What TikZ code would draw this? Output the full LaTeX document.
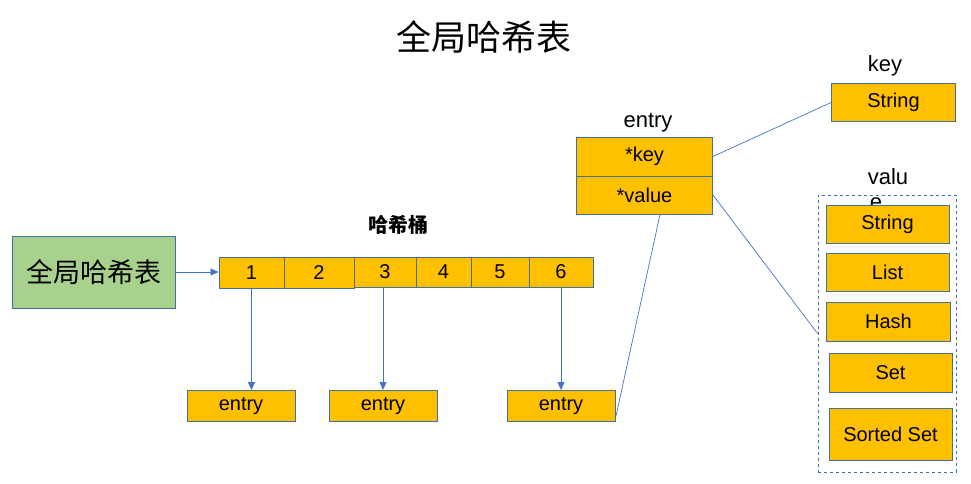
\documentclass[tikz,border=0pt]{standalone}
\usepackage{fontspec}
\setmainfont{Liberation Sans}
\newfontfamily\cjk{Noto Sans CJK SC}
\usetikzlibrary{arrows.meta}
\definecolor{boxorange}{HTML}{FFC000}
\definecolor{boxgreen}{HTML}{A9D18E}
\definecolor{edgeblue}{HTML}{41719C}
\definecolor{linkblue}{HTML}{4472C4}
\tikzset{
  cellbox/.style={draw=edgeblue, fill=boxorange, line width=0.9pt, inner sep=0pt},
  link/.style={draw=linkblue, line width=0.7pt},
  arr/.style={link, -{Triangle[length=8pt,width=7pt]}},
  lbl/.style={inner sep=0pt, font=\fontsize{20}{22}\selectfont},
}
\begin{document}
\begin{tikzpicture}[x=1pt,y=-1pt]
\useasboundingbox (0,0) rectangle (971,484);
% title
\node[inner sep=0pt, font=\cjk\fontsize{35}{37}\selectfont] (title) at (484,37) {全局哈希表};
% global hash table
\node[draw=edgeblue, fill=boxgreen, line width=0.9pt, minimum width=163pt, minimum height=72pt, inner sep=0pt, font=\cjk\fontsize{27}{29}\selectfont] (g) at (93.5,272) {全局哈希表};
% buckets label
\node[inner sep=0pt, font=\cjk\bfseries\fontsize{20}{22}\selectfont] (hb) at (398,225) {哈希桶};
% bucket cells
\node[cellbox, minimum width=65pt, minimum height=31pt, font=\fontsize{20}{22}\selectfont] (b1) at (251.5,272.5) {1};
\node[cellbox, minimum width=70pt, minimum height=31pt, font=\fontsize{20}{22}\selectfont] (b2) at (319,272.5) {2};
\node[cellbox, minimum width=62pt, minimum height=30pt, font=\fontsize{20}{22}\selectfont] (b3) at (385,272) {3};
\node[cellbox, minimum width=55pt, minimum height=30pt, font=\fontsize{20}{22}\selectfont] (b4) at (443.5,272) {4};
\node[cellbox, minimum width=58pt, minimum height=30pt, font=\fontsize{20}{22}\selectfont] (b5) at (500,272) {5};
\node[cellbox, minimum width=64pt, minimum height=30pt, font=\fontsize{20}{22}\selectfont] (b6) at (561,272) {6};
\draw[arr] (g.east) -- (g.east -| b1.west);
% entries
\node[cellbox, minimum width=108pt, minimum height=31pt, font=\fontsize{20}{22}\selectfont] (e1) at (241,406) {entry};
\node[cellbox, minimum width=108pt, minimum height=31pt, font=\fontsize{20}{22}\selectfont] (e2) at (383,406) {entry};
\node[cellbox, minimum width=108pt, minimum height=31pt, font=\fontsize{20}{22}\selectfont] (e3) at (561,406) {entry};
\draw[arr] (b1.south) -- (b1.south |- e1.north);
\draw[arr] ([xshift=-2pt]b3.south) -- ([xshift=-2pt]b3.south |- e2.north);
\draw[arr] (b6.south) -- (b6.south |- e3.north);
% entry struct
\node[lbl, font=\fontsize{22}{24}\selectfont] (entrylbl) at (648,123) {entry};
\node[cellbox, minimum width=136pt, minimum height=39pt, font=\fontsize{20}{22}\selectfont] (k) at (644.5,156.5) {*key};
\node[cellbox, minimum width=136pt, minimum height=38pt, font=\fontsize{20}{22}\selectfont] (v) at (644.5,195) {*value};
\coordinate (e3r) at (616,416);
\coordinate (vb) at (660,214.5);
\draw[link] (e3r) -- (vb);
% key
\node[lbl, font=\fontsize{22}{24}\selectfont] (keylbl) at (885,66) {key};
\node[cellbox, minimum width=124pt, minimum height=38pt, font=\fontsize{20}{22}\selectfont] (ks) at (893.5,102.5) {String};
\draw[link] (k.east) -- (ks.west);
% value
\node[lbl, font=\fontsize{22}{24}\selectfont] (vallbl) at (888,177) {valu};
\node[lbl, font=\fontsize{22}{24}\selectfont] (vallbl2) at (876,204) {e};
\node[draw=edgeblue, dashed, line width=0.9pt, minimum width=138pt, minimum height=277pt, inner sep=0pt] (vbox) at (887,333.5) {};
\draw[link] (v.east) -- (vbox.west);
\node[cellbox, minimum width=123pt, minimum height=38pt, font=\fontsize{20}{22}\selectfont] (vs) at (887.5,224) {String};
\node[cellbox, minimum width=123pt, minimum height=38pt, font=\fontsize{20}{22}\selectfont] (vl) at (887.5,272) {List};
\node[cellbox, minimum width=124pt, minimum height=39pt, font=\fontsize{20}{22}\selectfont] (vh) at (888.5,321.5) {Hash};
\node[cellbox, minimum width=123pt, minimum height=39pt, font=\fontsize{20}{22}\selectfont] (vst) at (890.5,372.5) {Set};
\node[cellbox, minimum width=123pt, minimum height=52pt, font=\fontsize{20}{22}\selectfont] (vss) at (890.5,434.5) {Sorted Set};
\end{tikzpicture}
\end{document}
